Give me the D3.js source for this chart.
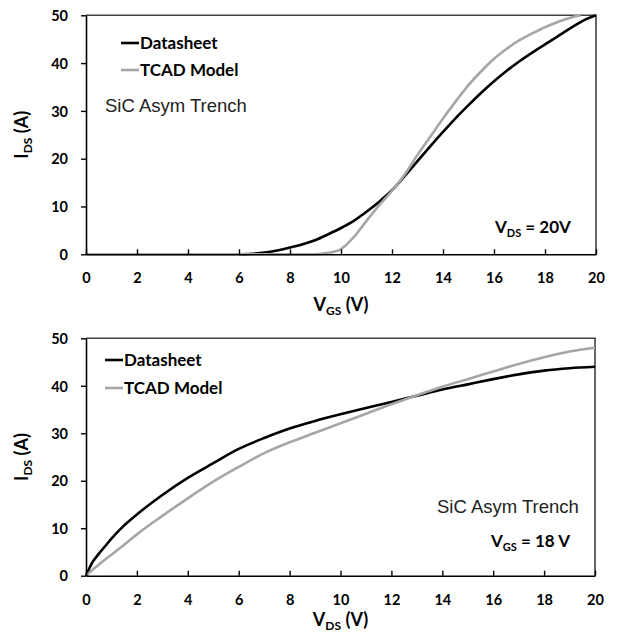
<!DOCTYPE html>
<html>
<head>
<meta charset="utf-8">
<script src="https://cdn.jsdelivr.net/npm/d3@7"></script>
<style>
  html, body { margin: 0; padding: 0; background: #fff; }
  svg { display: block; }
  .tick text { font-family: Lato, "Open Sans", sans-serif; font-weight: 700; font-size: 14.5px; fill: #000; }
</style>
</head>
<body>
<svg id="chart" width="617" height="635"></svg>
<script>
// ---------- DATA ----------
const xTicks = [0, 2, 4, 6, 8, 10, 12, 14, 16, 18, 20];
const yTicks = [0, 10, 20, 30, 40, 50];

// Top chart: transfer characteristics (VDS = 20 V)
const dsTransferVgs = [6, 6.5, 7, 7.5, 8, 8.5, 9, 9.5, 10, 10.5, 11, 11.5, 12, 12.5, 13, 13.5, 14, 14.5, 15, 15.5, 16, 16.5, 17, 17.5, 18, 18.5, 19, 19.5, 20];
const dsTransferIds = [0, 0.1, 0.35, 0.8, 1.4, 2.1, 3.0, 4.2, 5.5, 7.0, 8.9, 11.0, 13.4, 16.4, 19.5, 22.6, 25.6, 28.5, 31.2, 33.8, 36.2, 38.4, 40.4, 42.2, 43.9, 45.6, 47.3, 48.9, 50];
const tcadTransferVgs = [0, 9.0, 9.5, 10, 10.5, 11, 11.5, 12, 12.5, 13, 13.5, 14, 14.5, 15, 15.5, 16, 16.5, 17, 17.5, 18, 18.5, 19, 19.4];
const tcadTransferIds = [0, 0, 0.3, 1.1, 3.6, 7.0, 10.3, 13.3, 16.7, 20.8, 24.6, 28.4, 32.0, 35.4, 38.3, 40.9, 43.0, 44.8, 46.2, 47.5, 48.6, 49.5, 50];

// Bottom chart: output characteristics (VGS = 18 V)
const outputVds = [0, 0.25, 0.5, 0.75, 1, 1.5, 2, 3, 4, 5, 6, 7, 8, 9, 10, 11, 12, 13, 14, 15, 16, 17, 18, 19, 20];
const dsOutputIds = [0, 2.8, 4.6, 6.2, 7.8, 10.6, 12.9, 17.0, 20.6, 23.7, 26.7, 29.0, 31.0, 32.6, 34.0, 35.3, 36.6, 37.9, 39.2, 40.3, 41.4, 42.4, 43.2, 43.7, 44.0];
const tcadOutputIds = [0, 1.2, 2.3, 3.4, 4.4, 6.5, 8.7, 12.6, 16.3, 19.8, 22.9, 25.8, 28.1, 30.1, 32.1, 34.1, 36.1, 38.0, 39.8, 41.4, 43.0, 44.6, 46.0, 47.2, 48.0];

const seriesNames = ["Datasheet", "TCAD Model"];
const seriesColors = ["#000000", "#a6a6a6"];

// ---------- DRAW ----------
const svg = d3.select("#chart");
const FONT = 'Lato, "Open Sans", sans-serif';

function drawPanel(cfg) {
  const x = d3.scaleLinear().domain([0, 20]).range([cfg.x0, cfg.x1]);
  const y = d3.scaleLinear().domain([0, 50]).range([cfg.y0, cfg.y1]);
  const g = svg.append("g");

  // frame (top & right)
  g.append("path")
    .attr("d", `M${cfg.x0},${cfg.y1}H${cfg.x1}V${cfg.y0}`)
    .attr("fill", "none").attr("stroke", "#404040").attr("stroke-width", 1.6);

  // series
  const line = d3.line().x(d => x(d[0])).y(d => y(d[1])).curve(d3.curveMonotoneX);
  cfg.series.forEach((s, i) => {
    g.append("path")
      .datum(s.xs.map((v, k) => [v, s.ys[k]]))
      .attr("d", line)
      .attr("fill", "none")
      .attr("stroke", seriesColors[i])
      .attr("stroke-width", 2.6)
      .attr("stroke-linejoin", "round");
  });

  // x axis (ticks inside)
  const xa = g.append("g").attr("transform", `translate(0,${cfg.y0})`)
    .call(d3.axisBottom(x).tickValues(xTicks).tickFormat(d3.format("d")).tickSizeInner(-5).tickSizeOuter(0).tickPadding(15));
  xa.select(".domain").attr("stroke", "#000").attr("stroke-width", 1.6);
  xa.selectAll(".tick line").attr("stroke", "#000").attr("stroke-width", 1.4);
  xa.selectAll(".tick text").attr("dy", null).attr("y", 29);

  // y axis (ticks outside)
  const ya = g.append("g").attr("transform", `translate(${cfg.x0},0)`)
    .call(d3.axisLeft(y).tickValues(yTicks).tickFormat(d3.format("d")).tickSizeInner(5).tickSizeOuter(0).tickPadding(13));
  ya.select(".domain").attr("stroke", "#000").attr("stroke-width", 1.6);
  ya.selectAll(".tick line").attr("stroke", "#000").attr("stroke-width", 1.4);
  ya.selectAll(".tick text").attr("dy", "0.36em");

  // x title
  const xt = g.append("text")
    .attr("x", (cfg.x0 + cfg.x1) / 2).attr("y", cfg.xTitleY)
    .attr("text-anchor", "middle")
    .attr("font-family", FONT).attr("font-weight", 700).attr("font-size", 18);
  xt.append("tspan").text("V");
  xt.append("tspan").attr("font-size", 12).attr("dy", 3.5).text(cfg.xSub);
  xt.append("tspan").attr("dy", -3.5).text(" (V)");

  // y title
  const yt = g.append("text")
    .attr("transform", `translate(28,${(cfg.y0 + cfg.y1) / 2}) rotate(-90)`)
    .attr("text-anchor", "middle")
    .attr("font-family", FONT).attr("font-weight", 700).attr("font-size", 18);
  yt.append("tspan").text("I");
  yt.append("tspan").attr("font-size", 12).attr("dy", 4).text("DS");
  yt.append("tspan").attr("dy", -4).text(" (A)");

  // legend
  seriesNames.forEach((name, i) => {
    const ly = cfg.legY + i * cfg.legGap;
    g.append("line")
      .attr("x1", cfg.legX).attr("x2", cfg.legX + 18)
      .attr("y1", ly).attr("y2", ly)
      .attr("stroke", seriesColors[i]).attr("stroke-width", 2.6);
    g.append("text")
      .attr("x", cfg.legX + 19).attr("y", ly + 6)
      .attr("font-family", FONT).attr("font-weight", 700).attr("font-size", 17)
      .attr("fill", "#000")
      .text(name);
  });

  // device label
  g.append("text")
    .attr("x", cfg.devX).attr("y", cfg.devY)
    .attr("font-family", '"Liberation Sans", Arial, sans-serif').attr("font-size", 18.5)
    .attr("fill", "#222")
    .text("SiC Asym Trench");

  // condition label
  const ct = g.append("text")
    .attr("x", cfg.condX).attr("y", cfg.condY)
    .attr("font-family", FONT).attr("font-weight", 700).attr("font-size", 17);
  ct.append("tspan").text("V");
  ct.append("tspan").attr("font-size", 11).attr("dy", 4).text(cfg.condSub);
  ct.append("tspan").attr("dy", -4).text(cfg.condText);
}

drawPanel({
  x0: 86, x1: 596, y0: 254.3, y1: 15.3,
  series: [
    { xs: dsTransferVgs, ys: dsTransferIds },
    { xs: tcadTransferVgs, ys: tcadTransferIds }
  ],
  xSub: "GS", xTitleY: 311,
  legX: 121, legY: 43, legGap: 27,
  devX: 105, devY: 111.5,
  condX: 495, condY: 233, condSub: "DS", condText: " = 20V"
});

drawPanel({
  x0: 86, x1: 595, y0: 575.7, y1: 338.3,
  series: [
    { xs: outputVds, ys: dsOutputIds },
    { xs: outputVds, ys: tcadOutputIds }
  ],
  xSub: "DS", xTitleY: 626,
  legX: 105, legY: 360, legGap: 28,
  devX: 437, devY: 513,
  condX: 491, condY: 547, condSub: "GS", condText: " = 18 V"
});
</script>
</body>
</html>
